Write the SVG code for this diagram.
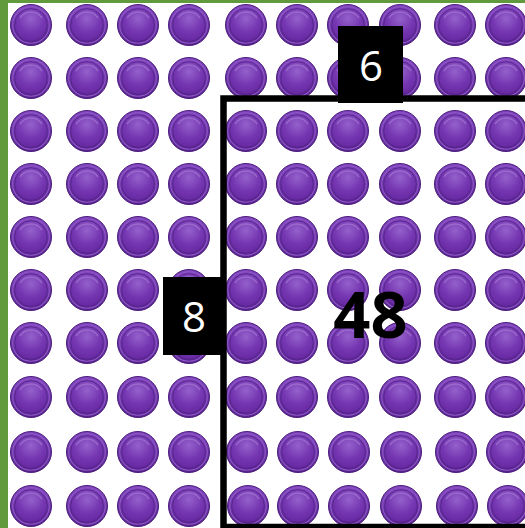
<svg xmlns="http://www.w3.org/2000/svg" xmlns:xlink="http://www.w3.org/1999/xlink" width="525" height="528" viewBox="0 0 525 528">
  <style>
    .label-box { fill: #000000; }
    .label-text { fill: #ffffff; font-family: "Open Sans", "Noto Sans", "Liberation Sans", sans-serif; font-size: 42px; text-anchor: middle; }
    .area-text { fill: #000000; font-family: "Open Sans", "Noto Sans", "Liberation Sans", sans-serif; font-size: 65px; font-weight: bold; text-anchor: middle; }
    .frame { fill: none; stroke: #000000; stroke-width: 6.5; }
  </style>
  <defs>
    <radialGradient id="face" cx="50%" cy="30%" r="70%">
      <stop offset="0" stop-color="#9461cb"/>
      <stop offset="0.6" stop-color="#7536b1"/>
      <stop offset="1" stop-color="#6729a2"/>
    </radialGradient>
    <linearGradient id="rim" x1="0" y1="0" x2="0" y2="1">
      <stop offset="0" stop-color="#8044bd"/>
      <stop offset="1" stop-color="#55228a"/>
    </linearGradient>
    <g id="btn">
      <circle r="20.5" fill="url(#rim)" stroke="#4c1d7e" stroke-width="1"/>
      <circle r="18.3" fill="none" stroke="#8f58c8" stroke-width="1.1"/>
      <circle r="16.3" fill="url(#face)" stroke="#58248e" stroke-width="0.9"/>
      <path d="M -11 -7 A 13 13 0 0 1 11 -7" fill="none" stroke="#b189dc" stroke-width="1.5" opacity="0.5"/>
    </g>
  </defs>

  <rect x="0" y="0" width="525" height="528" fill="#ffffff"/>
  <g id="border">
    <rect x="0" y="0" width="525" height="3" fill="#609a3c"/>
    <rect x="0" y="0" width="8" height="528" fill="#609a3c"/>
  </g>

  <g id="counters">
    <g id="row1" transform="translate(0,25)">
      <use xlink:href="#btn" x="31"/><use xlink:href="#btn" x="87"/><use xlink:href="#btn" x="138"/><use xlink:href="#btn" x="189"/><use xlink:href="#btn" x="246"/><use xlink:href="#btn" x="297"/><use xlink:href="#btn" x="348"/><use xlink:href="#btn" x="400"/><use xlink:href="#btn" x="455"/><use xlink:href="#btn" x="506"/>
    </g>
    <g id="row2" transform="translate(0,78)">
      <use xlink:href="#btn" x="31"/><use xlink:href="#btn" x="87"/><use xlink:href="#btn" x="138"/><use xlink:href="#btn" x="189"/><use xlink:href="#btn" x="246"/><use xlink:href="#btn" x="297"/><use xlink:href="#btn" x="348"/><use xlink:href="#btn" x="400"/><use xlink:href="#btn" x="455"/><use xlink:href="#btn" x="506"/>
    </g>
    <g id="row3" transform="translate(0,131)">
      <use xlink:href="#btn" x="31"/><use xlink:href="#btn" x="87"/><use xlink:href="#btn" x="138"/><use xlink:href="#btn" x="189"/><use xlink:href="#btn" x="246"/><use xlink:href="#btn" x="297"/><use xlink:href="#btn" x="348"/><use xlink:href="#btn" x="400"/><use xlink:href="#btn" x="455"/><use xlink:href="#btn" x="506"/>
    </g>
    <g id="row4" transform="translate(0,184)">
      <use xlink:href="#btn" x="31"/><use xlink:href="#btn" x="87"/><use xlink:href="#btn" x="138"/><use xlink:href="#btn" x="189"/><use xlink:href="#btn" x="246"/><use xlink:href="#btn" x="297"/><use xlink:href="#btn" x="348"/><use xlink:href="#btn" x="400"/><use xlink:href="#btn" x="455"/><use xlink:href="#btn" x="506"/>
    </g>
    <g id="row5" transform="translate(0,237)">
      <use xlink:href="#btn" x="31"/><use xlink:href="#btn" x="87"/><use xlink:href="#btn" x="138"/><use xlink:href="#btn" x="189"/><use xlink:href="#btn" x="246"/><use xlink:href="#btn" x="297"/><use xlink:href="#btn" x="348"/><use xlink:href="#btn" x="400"/><use xlink:href="#btn" x="455"/><use xlink:href="#btn" x="506"/>
    </g>
    <g id="row6" transform="translate(0,290)">
      <use xlink:href="#btn" x="31"/><use xlink:href="#btn" x="87"/><use xlink:href="#btn" x="138"/><use xlink:href="#btn" x="189"/><use xlink:href="#btn" x="246"/><use xlink:href="#btn" x="297"/><use xlink:href="#btn" x="348"/><use xlink:href="#btn" x="400"/><use xlink:href="#btn" x="455"/><use xlink:href="#btn" x="506"/>
    </g>
    <g id="row7" transform="translate(0,343)">
      <use xlink:href="#btn" x="31"/><use xlink:href="#btn" x="87"/><use xlink:href="#btn" x="138"/><use xlink:href="#btn" x="189"/><use xlink:href="#btn" x="246"/><use xlink:href="#btn" x="297"/><use xlink:href="#btn" x="348"/><use xlink:href="#btn" x="400"/><use xlink:href="#btn" x="455"/><use xlink:href="#btn" x="506"/>
    </g>
    <g id="row8" transform="translate(0,397)">
      <use xlink:href="#btn" x="31"/><use xlink:href="#btn" x="87"/><use xlink:href="#btn" x="138"/><use xlink:href="#btn" x="189"/><use xlink:href="#btn" x="246"/><use xlink:href="#btn" x="297"/><use xlink:href="#btn" x="348"/><use xlink:href="#btn" x="400"/><use xlink:href="#btn" x="455"/><use xlink:href="#btn" x="506"/>
    </g>
    <g id="row9" transform="translate(0,452)">
      <use xlink:href="#btn" x="31"/><use xlink:href="#btn" x="87"/><use xlink:href="#btn" x="138"/><use xlink:href="#btn" x="189"/><use xlink:href="#btn" x="247"/><use xlink:href="#btn" x="298"/><use xlink:href="#btn" x="349"/><use xlink:href="#btn" x="401"/><use xlink:href="#btn" x="456"/><use xlink:href="#btn" x="507"/>
    </g>
    <g id="row10" transform="translate(0,506)">
      <use xlink:href="#btn" x="31"/><use xlink:href="#btn" x="87"/><use xlink:href="#btn" x="138"/><use xlink:href="#btn" x="189"/><use xlink:href="#btn" x="248"/><use xlink:href="#btn" x="298"/><use xlink:href="#btn" x="349"/><use xlink:href="#btn" x="401"/><use xlink:href="#btn" x="457"/><use xlink:href="#btn" x="508"/>
    </g>
  </g>

  <g id="frame">
    <rect class="frame" x="223.5" y="98.5" width="320" height="428.5"/>
  </g>

  <g id="label-6">
    <rect class="label-box" x="338" y="26" width="65" height="77"/>
    <text class="label-text" x="371" y="81">6</text>
  </g>
  <g id="label-8">
    <rect class="label-box" x="163" y="277" width="60" height="78"/>
    <text class="label-text" x="194" y="332">8</text>
  </g>
  <g id="area">
    <text class="area-text" x="370.5" y="338">48</text>
  </g>
</svg>
